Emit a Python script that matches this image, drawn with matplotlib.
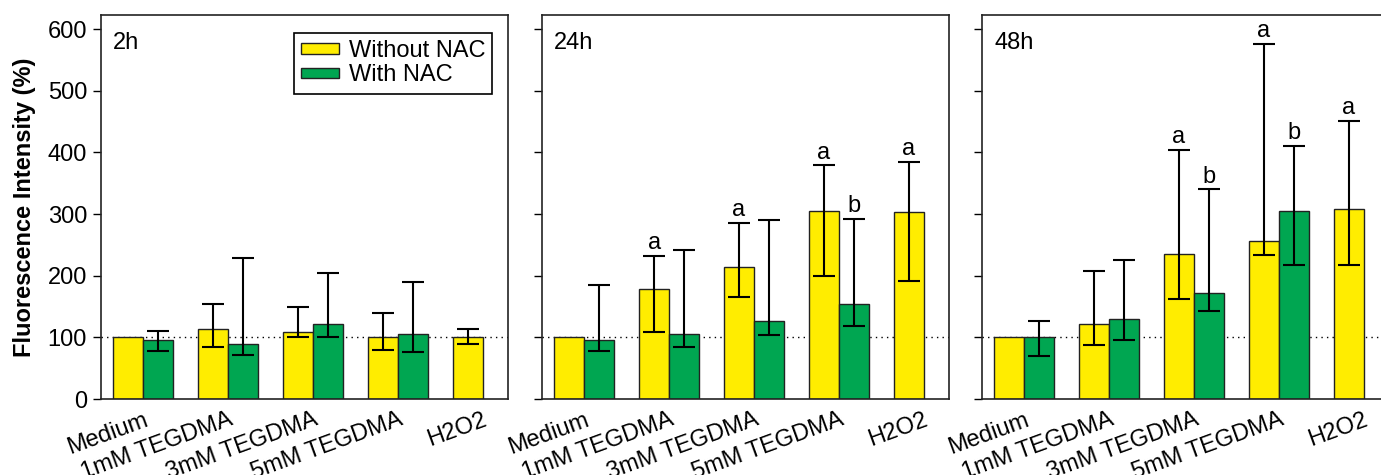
import matplotlib
matplotlib.use("Agg")
import matplotlib.pyplot as plt
import numpy as np

plt.rcParams['font.family'] = ['Liberation Sans', 'DejaVu Sans']

# data
groups = ['Medium', '1mM TEGDMA', '3mM TEGDMA', '5mM TEGDMA', 'H2O2']
times = ['2h', '24h', '48h']

# without NAC: mean, lower end, upper end of error bar
without_mean = [[100, 114, 109, 100, 101],
                [100, 179, 214, 305, 303],
                [100, 121, 236, 256, 308]]
without_low = [[100, 85, 101, 80, 89],
               [100, 108, 165, 199, 192],
               [100, 88, 162, 233, 218]]
without_high = [[100, 154, 150, 139, 113],
                [100, 232, 285, 379, 384],
                [100, 208, 404, 576, 451]]
without_sig = [['', '', '', '', ''],
               ['', 'a', 'a', 'a', 'a'],
               ['', '', 'a', 'a', 'a']]

# with NAC (no H2O2 group)
with_mean = [[95, 90, 122, 106],
             [96, 105, 126, 154],
             [101, 129, 172, 305]]
with_low = [[78, 71, 101, 77],
            [78, 85, 104, 118],
            [70, 95, 142, 218]]
with_high = [[111, 228, 205, 190],
             [185, 241, 290, 292],
             [127, 226, 340, 411]]
with_sig = [['', '', '', ''],
            ['', '', '', 'b'],
            ['', '', 'b', 'b']]

yellow = '#FFED00'
green = '#00A651'
fs = 17

fig = plt.figure(figsize=(13.81, 4.75), dpi=100)
W, H = 1381, 475
lefts = [101, 542, 982]
axw = 407
ax_bottom = 399
ax_top = 15

bw = 0.353
x = np.arange(len(groups))

axes = []
for i, t in enumerate(times):
    ax = fig.add_axes([lefts[i] / W, (H - ax_bottom) / H, axw / W, (ax_bottom - ax_top) / H])
    axes.append(ax)

    xm = x - bw / 2
    m = np.array(without_mean[i])
    err = [m - np.array(without_low[i]), np.array(without_high[i]) - m]
    ax.bar(xm, m, bw, color=yellow, edgecolor='#222222', linewidth=1.0, zorder=2,
           label='Without NAC')
    has_err = np.array(without_high[i]) != m
    ax.errorbar(xm[has_err], m[has_err], yerr=[e[has_err] for e in err], fmt='none',
                ecolor='black', elinewidth=1.5, capsize=8, capthick=1.5, zorder=3)

    xw = x[:4] + bw / 2
    m2 = np.array(with_mean[i])
    err2 = [m2 - np.array(with_low[i]), np.array(with_high[i]) - m2]
    ax.bar(xw, m2, bw, color=green, edgecolor='#222222', linewidth=1.0, zorder=2,
           label='With NAC')
    ax.errorbar(xw, m2, yerr=err2, fmt='none', ecolor='black', elinewidth=1.5,
                capsize=8, capthick=1.5, zorder=3)

    # significance letters
    for xx, hi, s in zip(xm, without_high[i], without_sig[i]):
        if s:
            ax.text(xx, hi + 3, s, ha='center', va='bottom', fontsize=fs)
    for xx, hi, s in zip(xw, with_high[i], with_sig[i]):
        if s:
            ax.text(xx, hi + 3, s, ha='center', va='bottom', fontsize=fs)

    ax.axhline(100, color='black', linestyle=(0, (1, 3)), linewidth=1.0, zorder=1)

    ax.set_xlim(-0.5, 4.3)
    ax.set_ylim(0, 623)
    ax.set_yticks(range(0, 601, 100))
    ax.set_xticks(x)
    ax.set_xticklabels(groups, rotation=20, ha='right', rotation_mode='anchor',
                       fontsize=fs)
    ax.tick_params(axis='x', length=0, pad=7)
    ax.tick_params(axis='y', direction='out', length=6, width=1.0, labelsize=fs, pad=4)
    if i > 0:
        ax.set_yticklabels([])
    for sp in ax.spines.values():
        sp.set_linewidth(1.2)
        sp.set_color('#222222')

    ax.text(0.03, 0.955, t, transform=ax.transAxes, ha='left', va='top', fontsize=fs)

axes[0].set_ylabel('Fluorescence Intensity (%)', fontsize=17, fontweight='bold', labelpad=8)

leg = axes[0].legend(loc='upper right', bbox_to_anchor=(0.961, 0.953), fontsize=fs,
                     handlelength=1.6, handleheight=0.3, labelspacing=0.1,
                     handletextpad=0.4, borderpad=0.3, borderaxespad=0,
                     fancybox=False, edgecolor='black', framealpha=1)
leg.get_frame().set_linewidth(1.2)

plt.savefig('out.png', dpi=100)
